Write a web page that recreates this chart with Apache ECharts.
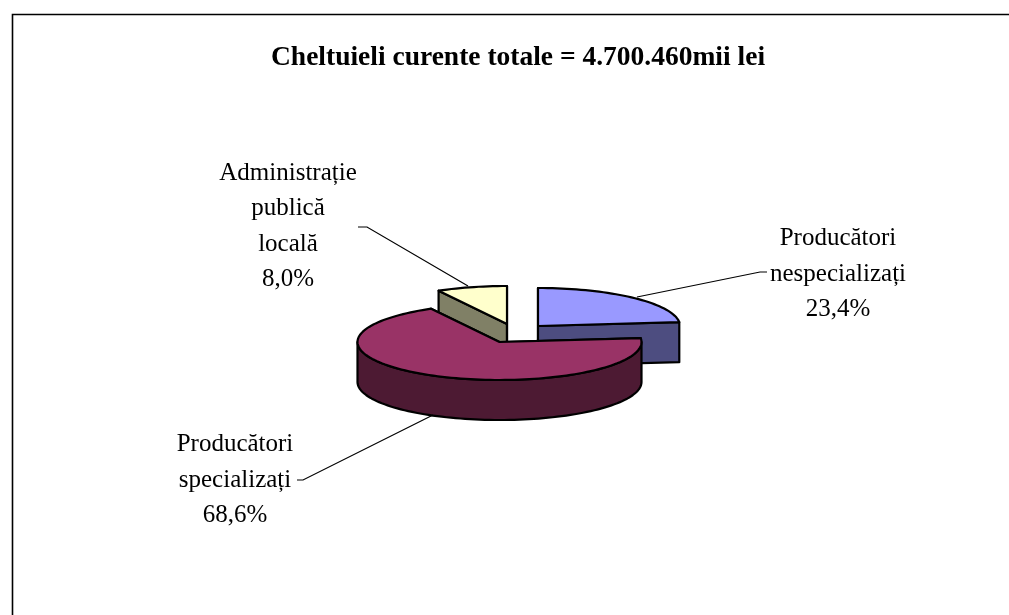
<!DOCTYPE html>
<html><head><meta charset="utf-8">
<style>html,body{margin:0;padding:0;background:#fff}#c{width:1009px;height:615px}</style>
<script src="https://cdn.jsdelivr.net/npm/echarts@6/dist/echarts.min.js"></script>
</head><body><div id="c"></div>
<script>
// Data
const categories = ['Producători\nnespecializați', 'Producători\nspecializați', 'Administrație\npublică\nlocală'];
const values = [23.4, 68.6, 8.0];
const titleText = 'Cheltuieli curente totale = 4.700.460mii lei';

// Styles
const topColors = ['#9999FF', '#993366', '#FFFFCC'];
const sideColors = ['#4D4D80', '#4D1A33', '#808066'];

// Layout (pixels)
const RX = 142, RY = 38, DEPTH = 40;
const centers = [[538, 326], [499.5, 342], [507, 324]];
const drawRank = [0, 2, 1];
const labelPos = [[838, 274], [235, 480], [288, 226.5]];
const leaders = [
  [[767, 272], [760, 272], [637, 297]],
  [[297, 480], [303, 480], [433, 415]],
  [[358, 227], [367, 227], [468, 286]]
];
const FONT = '"Liberation Serif","Times New Roman",serif';

const total = values.reduce((a, b) => a + b, 0);
const starts = [];
values.reduce((acc, v, i) => { starts[i] = acc; return acc + v; }, 0);
const fmt = v => v.toFixed(1).replace('.', ',') + '%';

function pt(c, deg, dz) {
  const a = deg * Math.PI / 180;
  return [c[0] + RX * Math.sin(a), c[1] - RY * Math.cos(a) + (dz || 0)];
}
function arc(c, a0, a1, dz) {
  const n = Math.max(2, Math.ceil(Math.abs(a1 - a0) / 2)), out = [];
  for (let i = 0; i <= n; i++) out.push(pt(c, a0 + (a1 - a0) * i / n, dz));
  return out;
}
const stroke = { stroke: '#000', lineWidth: 2.2, lineJoin: 'round' };

function renderItem(params, api) {
  const i = params.dataIndex, v = api.value(0), c = centers[i];
  const a0 = starts[i] / total * 360, a1 = a0 + v / total * 360;
  const z = drawRank[i] * 10, kids = [];
  const side = sideColors[i];
  const poly = (points, fill, zz) => kids.push({
    type: 'polygon', shape: { points }, z2: z + zz,
    style: Object.assign({ fill }, stroke)
  });
  const below = [c[0], c[1] + DEPTH];
  // radial faces
  poly([c, pt(c, a0), pt(c, a0, DEPTH), below], side, 0);
  poly([c, pt(c, a1), pt(c, a1, DEPTH), below], side, 1);
  // outer rim, front half only
  const r0 = Math.max(a0, 90), r1 = Math.min(a1, 270);
  if (r1 > r0) poly(arc(c, r0, r1, 0).concat(arc(c, r1, r0, DEPTH)), side, 2);
  // top face
  poly([c].concat(arc(c, a0, a1, 0)), topColors[i], 3);
  // leader and label
  kids.push({ type: 'polyline', shape: { points: leaders[i] }, z2: 50,
    style: { stroke: '#000', lineWidth: 1.2, fill: null } });
  kids.push({ type: 'text', z2: 60, style: {
    x: labelPos[i][0], y: labelPos[i][1],
    text: categories[i] + '\n' + fmt(v),
    fontFamily: FONT, fontSize: 25, lineHeight: 35.2,
    fill: '#000', align: 'center', verticalAlign: 'middle'
  } });
  return { type: 'group', children: kids };
}

const chart = echarts.init(document.getElementById('c'), null, { renderer: 'canvas' });
chart.setOption({
  animation: false,
  backgroundColor: '#fff',
  title: { text: titleText, left: 513, top: 39, textAlign: 'center',
    textStyle: { fontFamily: FONT, fontWeight: 'bold', fontSize: 27.5, color: '#000' } },
  graphic: [{ type: 'polyline', shape: { points: [[12.5, 615], [12.5, 14.5], [1009, 14.5]] },
    style: { stroke: '#000', lineWidth: 1.6, fill: null } }],
  series: [{ type: 'custom', coordinateSystem: 'none', silent: true,
    data: values.map(v => [v]), renderItem }]
});
</script></body></html>
